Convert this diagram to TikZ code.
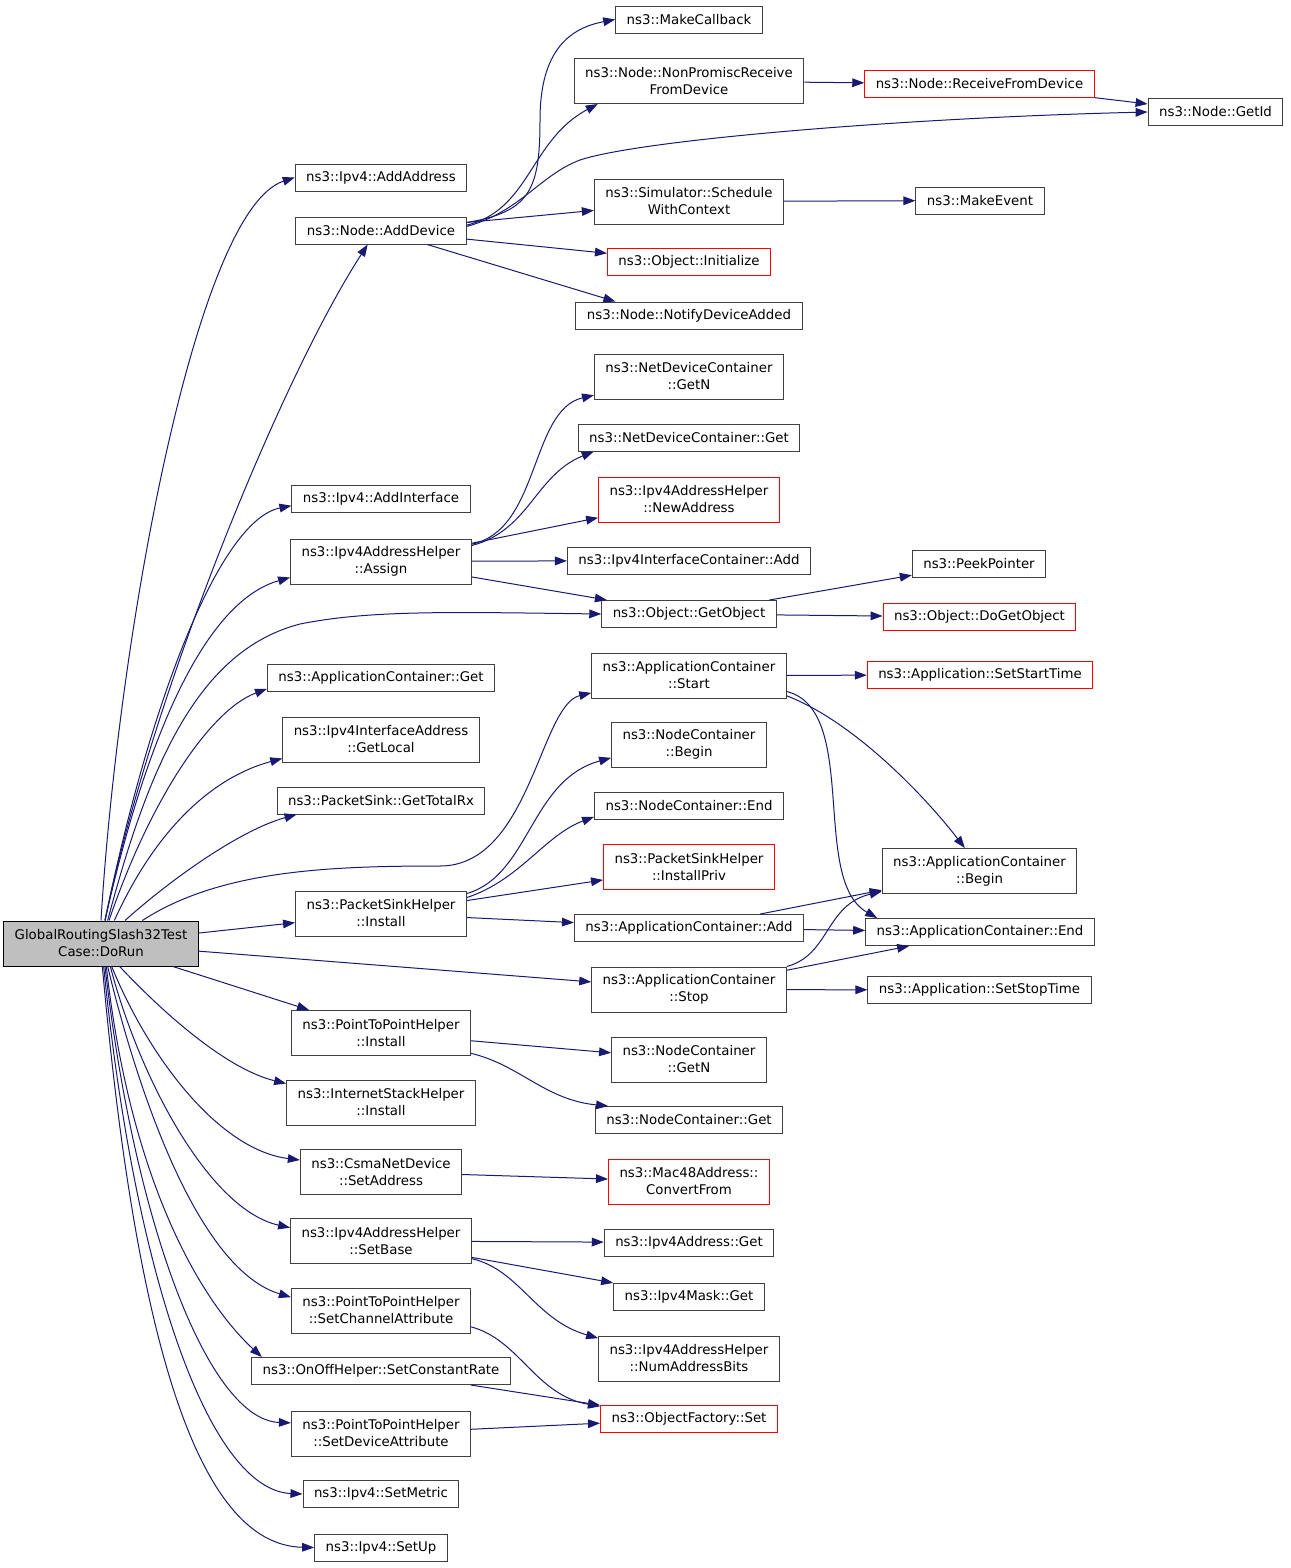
\documentclass[tikz,border=0pt]{standalone}
\usepackage{fontspec}
\setmainfont{DejaVu Sans}
\usetikzlibrary{arrows.meta}
\definecolor{edgeblue}{RGB}{25,25,112}
\definecolor{boxgray}{RGB}{64,64,64}
\definecolor{rootgray}{RGB}{191,191,191}
\tikzset{
  fn/.style={
    draw=boxgray,
    line width=0.75pt,
    inner xsep=8.25pt,
    inner ysep=0pt,
    minimum height=20.25pt,
    align=center,
    font=\fontsize{10}{12.75}\selectfont
  },
  fn-two/.style={fn, minimum height=33.75pt},
  fn-trunc/.style={draw=red},
  fn-root/.style={fn-two, draw=black, fill=rootgray},
  call/.style={
    draw=edgeblue,
    line width=0.75pt,
    -{Triangle[length=9pt,width=6.5pt]}
  }
}

\begin{document}
\begin{tikzpicture}[x=0.75pt,y=-0.75pt]
  \useasboundingbox (0,0) rectangle (1291,1568);
  % caller
  \node[fn-root] (doRun) at (101,943.5) {GlobalRoutingSlash32Test\\Case::DoRun};
  % first level
  \node[fn] (addAddress) at (381,177.5) {ns3::Ipv4::AddAddress};
  \node[fn] (addDevice) at (381,230.5) {ns3::Node::AddDevice};
  \node[fn] (addInterface) at (381,499) {ns3::Ipv4::AddInterface};
  \node[fn-two] (assign) at (381,561.5) {ns3::Ipv4AddressHelper\\::Assign};
  \node[fn] (appGet) at (381,677.5) {ns3::ApplicationContainer::Get};
  \node[fn-two] (getLocal) at (381,739.5) {ns3::Ipv4InterfaceAddress\\::GetLocal};
  \node[fn] (getTotalRx) at (381,800.5) {ns3::PacketSink::GetTotalRx};
  \node[fn-two] (sinkInstall) at (381,913.5) {ns3::PacketSinkHelper\\::Install};
  \node[fn-two] (p2pInstall) at (381,1033) {ns3::PointToPointHelper\\::Install};
  \node[fn-two] (stackInstall) at (381,1102.5) {ns3::InternetStackHelper\\::Install};
  \node[fn-two] (setAddress) at (381,1172) {ns3::CsmaNetDevice\\::SetAddress};
  \node[fn-two] (setBase) at (381,1241) {ns3::Ipv4AddressHelper\\::SetBase};
  \node[fn-two] (setChannelAttr) at (381,1310.5) {ns3::PointToPointHelper\\::SetChannelAttribute};
  \node[fn] (setConstantRate) at (381,1371) {ns3::OnOffHelper::SetConstantRate};
  \node[fn-two] (setDeviceAttr) at (381,1433.5) {ns3::PointToPointHelper\\::SetDeviceAttribute};
  \node[fn] (setMetric) at (381,1494) {ns3::Ipv4::SetMetric};
  \node[fn] (setUp) at (381,1547.5) {ns3::Ipv4::SetUp};
  % second level
  \node[fn] (makeCallback) at (689,19.5) {ns3::MakeCallback};
  \node[fn-two] (nonPromisc) at (689,81) {ns3::Node::NonPromiscReceive\\FromDevice};
  \node[fn-two] (schedule) at (689,201.5) {ns3::Simulator::Schedule\\WithContext};
  \node[fn, fn-trunc] (initialize) at (689,261.5) {ns3::Object::Initialize};
  \node[fn] (notifyAdded) at (689,315.5) {ns3::Node::NotifyDeviceAdded};
  \node[fn-two] (ndcGetN) at (689,376.5) {ns3::NetDeviceContainer\\::GetN};
  \node[fn] (ndcGet) at (689,437.5) {ns3::NetDeviceContainer::Get};
  \node[fn-two, fn-trunc] (newAddress) at (689,499.5) {ns3::Ipv4AddressHelper\\::NewAddress};
  \node[fn] (iicAdd) at (689,560.5) {ns3::Ipv4InterfaceContainer::Add};
  \node[fn] (getObject) at (689,614) {ns3::Object::GetObject};
  \node[fn-two] (acStart) at (689,675.5) {ns3::ApplicationContainer\\::Start};
  \node[fn-two] (ncBegin) at (689,744.5) {ns3::NodeContainer\\::Begin};
  \node[fn] (ncEnd) at (689,805.5) {ns3::NodeContainer::End};
  \node[fn-two, fn-trunc] (installPriv) at (689,867) {ns3::PacketSinkHelper\\::InstallPriv};
  \node[fn] (acAdd) at (689,928) {ns3::ApplicationContainer::Add};
  \node[fn-two] (acStop) at (689,989.5) {ns3::ApplicationContainer\\::Stop};
  \node[fn-two] (ncGetN) at (689,1059.5) {ns3::NodeContainer\\::GetN};
  \node[fn] (ncGet) at (689,1120) {ns3::NodeContainer::Get};
  \node[fn-two, fn-trunc] (convertFrom) at (689,1181.5) {ns3::Mac48Address::\\ConvertFrom};
  \node[fn] (addrGet) at (689,1242.5) {ns3::Ipv4Address::Get};
  \node[fn] (maskGet) at (689,1296.5) {ns3::Ipv4Mask::Get};
  \node[fn-two] (numBits) at (689,1358.5) {ns3::Ipv4AddressHelper\\::NumAddressBits};
  \node[fn, fn-trunc] (factorySet) at (689,1419) {ns3::ObjectFactory::Set};
  % third and fourth level
  \node[fn, fn-trunc] (receiveFromDevice) at (979.5,84) {ns3::Node::ReceiveFromDevice};
  \node[fn] (makeEvent) at (980,200.5) {ns3::MakeEvent};
  \node[fn] (peekPointer) at (979,563.5) {ns3::PeekPointer};
  \node[fn, fn-trunc] (doGetObject) at (979.5,617) {ns3::Object::DoGetObject};
  \node[fn, fn-trunc] (setStartTime) at (980,675) {ns3::Application::SetStartTime};
  \node[fn-two] (acBegin) at (979.5,871) {ns3::ApplicationContainer\\::Begin};
  \node[fn] (acEnd) at (980,932) {ns3::ApplicationContainer::End};
  \node[fn] (setStopTime) at (979.5,990) {ns3::Application::SetStopTime};
  \node[fn] (getId) at (1215.5,112) {ns3::Node::GetId};

  % calls from DoRun, upwards
  \draw[call] (doRun.north) .. controls (118,640) and (195,210) .. (addAddress.west);
  \draw[call] ([xshift=3pt]doRun.north) .. controls (150,700) and (280,380) .. ([xshift=-10pt]addDevice.south);
  \draw[call] ([xshift=3pt]doRun.north) .. controls (150,700) and (220,520) .. ([yshift=-5pt]addInterface.west);
  \draw[call] ([xshift=3pt]doRun.north) .. controls (150,720) and (210,600) .. ([yshift=-12pt]assign.west);
  \draw[call] ([xshift=5pt]doRun.north) .. controls (150,760) and (200,650) .. (300,624)
    .. controls (370,610) and (450,612) .. (getObject.west);
  \draw[call] ([xshift=6pt]doRun.north) .. controls (150,800) and (210,710) .. ([yshift=2pt]appGet.south west);
  \draw[call] ([xshift=10pt]doRun.north) .. controls (160,820) and (220,775) .. ([yshift=3pt]getLocal.south west);
  \draw[call] ([xshift=18pt]doRun.north) .. controls (170,880) and (240,830) .. ([xshift=15pt]getTotalRx.south west);
  \draw[call] ([xshift=31pt]doRun.north) .. controls (220,870) and (330,866) .. (440,866)
    .. controls (530,866) and (540,705) .. ([yshift=-13pt]acStart.west);
  % calls from DoRun, straight
  \draw[call] (doRun) -- (sinkInstall);
  \draw[call] (doRun) -- (acStop);
  \draw[call] (doRun) -- (p2pInstall);
  % calls from DoRun, downwards
  \draw[call] ([xshift=14pt]doRun.south) .. controls (170,1020) and (230,1070) .. ([yshift=-3pt]stackInstall.north west);
  \draw[call] ([xshift=8pt]doRun.south) .. controls (150,1060) and (220,1150) .. ([yshift=9pt]setAddress.west);
  \draw[call] ([xshift=7pt]doRun.south) .. controls (140,1080) and (210,1210) .. ([yshift=10pt]setBase.west);
  \draw[call] ([xshift=5pt]doRun.south) .. controls (140,1100) and (200,1270) .. ([yshift=10pt]setChannelAttr.west);
  \draw[call] ([xshift=4pt]doRun.south) .. controls (130,1180) and (200,1300) .. ([xshift=8pt]setConstantRate.north west);
  \draw[call] ([xshift=3pt]doRun.south) .. controls (135,1230) and (210,1420) .. ([yshift=8pt]setDeviceAttr.west);
  \draw[call] ([xshift=2pt]doRun.south) .. controls (135,1280) and (210,1490) .. (setMetric.west);
  \draw[call] ([xshift=1pt]doRun.south) .. controls (135,1330) and (195,1545) .. (setUp.west);

  % AddDevice
  \draw[call] ([yshift=6pt]addDevice.east) .. controls (530,212) and (540,190) .. (540,120)
    .. controls (540,50) and (570,28) .. (makeCallback.west);
  \draw[call] ([yshift=4pt]addDevice.east) .. controls (530,210) and (530,140) .. ([xshift=18pt]nonPromisc.south west);
  \draw[call] ([yshift=3pt]addDevice.east) .. controls (520,212) and (540,175) .. (580,160)
    .. controls (640,140) and (900,118) .. (getId.west);
  \draw[call] (addDevice) -- (schedule);
  \draw[call] (addDevice) -- (initialize);
  \draw[call] (addDevice) -- ([xshift=30pt]notifyAdded.north west);
  \draw[call] (nonPromisc) -- (receiveFromDevice);
  \draw[call] (receiveFromDevice) -- (getId);
  \draw[call] (schedule) -- (makeEvent);

  % Assign
  \draw[call] ([yshift=13pt]assign.east) .. controls (540,530) and (530,410) .. ([yshift=-14pt]ndcGetN.west);
  \draw[call] ([yshift=12pt]assign.east) .. controls (530,530) and (535,475) .. ([xshift=12pt]ndcGet.south west);
  \draw[call] (assign) -- (newAddress);
  \draw[call] (assign) -- (iicAdd);
  \draw[call] (assign) -- (getObject);
  \draw[call] (getObject) -- (peekPointer);
  \draw[call] (getObject) -- (doGetObject);

  % application container
  \draw[call] (acStart) -- (setStartTime);
  \draw[call] ([yshift=2pt]acStart.south east) .. controls (850,720) and (920,790) .. ([xshift=-11pt]acBegin.north);
  \draw[call] ([yshift=-12pt]acStart.east) .. controls (860,710) and (810,880) .. ([xshift=9pt]acEnd.north west);
  \draw[call] (acAdd) -- (acBegin);
  \draw[call] (acAdd) -- (acEnd);
  \draw[call] (acStop.north east) .. controls (830,955) and (825,905) .. ([yshift=2pt]acBegin.south west);
  \draw[call] (acStop) -- (acEnd);
  \draw[call] (acStop) -- (setStopTime);

  % PacketSinkHelper::Install
  \draw[call] ([yshift=15pt]sinkInstall.east) .. controls (530,875) and (530,780) .. ([yshift=-10pt]ncBegin.west);
  \draw[call] ([yshift=12pt]sinkInstall.east) .. controls (520,880) and (545,835) .. ([yshift=2pt]ncEnd.south west);
  \draw[call] (sinkInstall) -- (installPriv);
  \draw[call] (sinkInstall) -- (acAdd);

  % helpers further down
  \draw[call] (p2pInstall) -- (ncGetN);
  \draw[call] ([yshift=2pt]p2pInstall.south east) .. controls (520,1065) and (545,1100) .. ([xshift=10pt]ncGet.north west);
  \draw[call] (setAddress) -- (convertFrom);
  \draw[call] (setBase) -- (addrGet);
  \draw[call] (setBase) -- (maskGet);
  \draw[call] ([yshift=4pt]setBase.south east) .. controls (520,1270) and (535,1320) .. ([yshift=-2pt]numBits.north west);
  \draw[call] ([yshift=5pt]setChannelAttr.south east) .. controls (520,1340) and (535,1395) .. ([yshift=-1pt]factorySet.north west);
  \draw[call] (setConstantRate) -- (factorySet);
  \draw[call] (setDeviceAttr) -- (factorySet);
\end{tikzpicture}
\end{document}
